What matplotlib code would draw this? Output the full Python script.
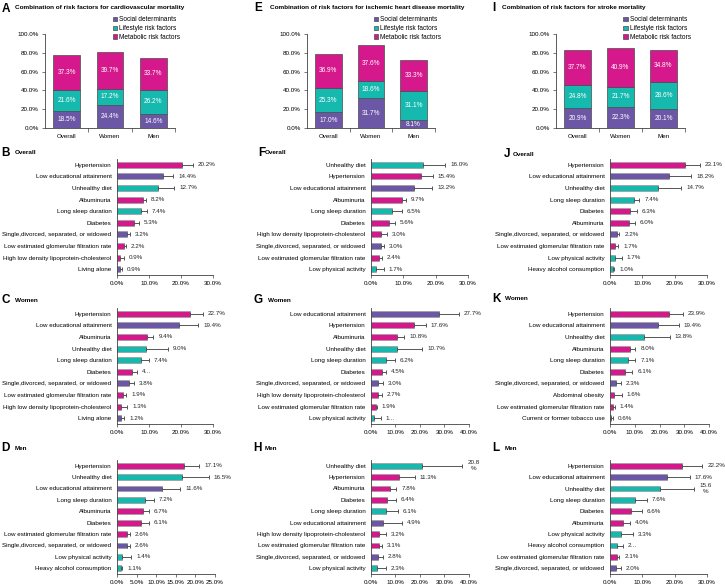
import matplotlib.pyplot as plt
import numpy as np

plt.rcParams['font.family'] = ['Liberation Sans', 'DejaVu Sans']

W, H = 725, 586

# ---- data ----
groups = ['Overall', 'Women', 'Men']

# stacked shares (%) : social / lifestyle / metabolic
a_social = [18.5, 24.4, 14.6]
a_lifestyle = [21.6, 17.2, 26.2]
a_metabolic = [37.3, 39.7, 33.7]
e_social = [17.0, 31.7, 8.1]
e_lifestyle = [25.3, 18.6, 31.1]
e_metabolic = [36.9, 37.6, 33.3]
i_social = [20.9, 22.3, 20.1]
i_lifestyle = [24.8, 21.7, 28.6]
i_metabolic = [37.7, 40.9, 34.8]

factor_type = {'Hypertension': 'M', 'Low educational attainment': 'S', 'Unhealthy diet': 'L',
               'Albuminuria': 'M', 'Long sleep duration': 'L', 'Diabetes': 'M',
               'Single,divorced, separated, or widowed': 'S',
               'Low estimated glomerular filtration rate': 'M',
               'High low density lipoprotein-cholesterol': 'M', 'Living alone': 'S',
               'Low physical activity': 'L', 'Heavy alcohol consumption': 'L',
               'Abdominal obesity': 'M', 'Current or former tobacco use': 'L'}

# cardiovascular mortality
b_factors = ['Hypertension', 'Low educational attainment', 'Unhealthy diet', 'Albuminuria',
             'Long sleep duration', 'Diabetes', 'Single,divorced, separated, or widowed',
             'Low estimated glomerular filtration rate', 'High low density lipoprotein-cholesterol',
             'Living alone']
b_values = [20.2, 14.4, 12.7, 8.2, 7.4, 5.3, 3.2, 2.2, 0.9, 0.9]
b_upper = [23.8, 17.6, 17.9, 9.0, 9.3, 6.8, 4.1, 2.8, 2.1, 1.6]

c_factors = ['Hypertension', 'Low educational attainment', 'Albuminuria', 'Unhealthy diet',
             'Long sleep duration', 'Diabetes', 'Single,divorced, separated, or widowed',
             'Low estimated glomerular filtration rate', 'High low density lipoprotein-cholesterol',
             'Living alone']
c_values = [22.7, 19.4, 9.4, 9.0, 7.4, 4.6, 3.8, 1.9, 1.3, 1.2]
c_upper = [26.8, 25.4, 11.4, 16.0, 9.9, 6.4, 5.2, 2.9, 3.2, 2.3]
c_shown = {5: '4…'}

d_factors = ['Hypertension', 'Unhealthy diet', 'Low educational attainment', 'Long sleep duration',
             'Albuminuria', 'Diabetes', 'Low estimated glomerular filtration rate',
             'Single,divorced, separated, or widowed', 'Low physical activity',
             'Heavy alcohol consumption']
d_values = [17.1, 16.5, 11.6, 7.2, 6.7, 6.1, 2.6, 2.6, 1.4, 1.1]
d_upper = [21.0, 23.4, 16.1, 9.5, 8.1, 8.2, 3.2, 3.2, 3.6, 1.4]

# ischemic heart disease mortality
f_factors = ['Unhealthy diet', 'Hypertension', 'Low educational attainment', 'Albuminuria',
             'Long sleep duration', 'Diabetes', 'High low density lipoprotein-cholesterol',
             'Single,divorced, separated, or widowed', 'Low estimated glomerular filtration rate',
             'Low physical activity']
f_values = [16.0, 15.4, 13.2, 9.7, 6.5, 5.6, 3.0, 3.0, 2.4, 1.7]
f_upper = [23.0, 19.2, 18.9, 10.8, 9.5, 7.5, 4.9, 4.1, 3.4, 3.9]

g_factors = ['Low educational attainment', 'Hypertension', 'Albuminuria', 'Unhealthy diet',
             'Long sleep duration', 'Diabetes', 'Single,divorced, separated, or widowed',
             'High low density lipoprotein-cholesterol', 'Low estimated glomerular filtration rate',
             'Low physical activity']
g_values = [27.7, 17.6, 10.8, 10.7, 6.2, 4.5, 3.0, 2.7, 1.9, 1.3]
g_upper = [35.8, 22.3, 13.6, 21.0, 9.8, 6.1, 4.7, 4.6, 2.3, 4.1]
g_shown = {9: '1…'}

h_factors = ['Unhealthy diet', 'Hypertension', 'Albuminuria', 'Diabetes', 'Long sleep duration',
             'Low educational attainment', 'High low density lipoprotein-cholesterol',
             'Low estimated glomerular filtration rate', 'Single,divorced, separated, or widowed',
             'Low physical activity']
h_values = [20.8, 11.3, 7.8, 6.4, 6.1, 4.9, 3.2, 3.1, 2.8, 2.3]
h_upper = [37.3, 17.9, 10.4, 10.2, 10.9, 12.5, 6.1, 4.6, 5.0, 6.1]
h_shown = {0: '20.8\n%'}

# stroke mortality
j_factors = ['Hypertension', 'Low educational attainment', 'Unhealthy diet', 'Long sleep duration',
             'Diabetes', 'Albuminuria', 'Single,divorced, separated, or widowed',
             'Low estimated glomerular filtration rate', 'Low physical activity',
             'Heavy alcohol consumption']
j_values = [23.1, 18.2, 14.7, 7.4, 6.3, 6.0, 2.2, 1.7, 1.7, 1.0]
j_upper = [27.7, 25.2, 22.0, 9.1, 8.3, 7.8, 2.9, 2.6, 3.6, 1.3]

k_factors = ['Hypertension', 'Low educational attainment', 'Unhealthy diet', 'Albuminuria',
             'Long sleep duration', 'Diabetes', 'Single,divorced, separated, or widowed',
             'Abdominal obesity', 'Low estimated glomerular filtration rate',
             'Current or former tobacco use']
k_values = [23.9, 19.4, 13.8, 8.0, 7.1, 6.1, 2.3, 1.6, 1.4, 0.6]
k_upper = [29.5, 27.8, 24.2, 10.3, 10.3, 9.0, 4.4, 4.7, 1.9, 1.1]

l_factors = ['Hypertension', 'Low educational attainment', 'Unhealthy diet', 'Long sleep duration',
             'Diabetes', 'Albuminuria', 'Low physical activity', 'Heavy alcohol consumption',
             'Low estimated glomerular filtration rate', 'Single,divorced, separated, or widowed']
l_values = [22.2, 17.6, 15.6, 7.6, 6.6, 4.0, 3.3, 2.1, 2.1, 2.0]
l_upper = [28.6, 24.6, 26.1, 11.4, 9.8, 6.2, 7.0, 4.1, 2.9, 3.3]
l_shown = {2: '15.6\n%', 7: '2…'}

colors = {'S': '#6b57a5', 'L': '#16b9ae', 'M': '#d5188c'}
spine_col = '#404040'
fs = 4.5


def px(x0, y0, x1, y1):
    return [x0 / W, 1 - y1 / H, (x1 - x0) / W, (y1 - y0) / H]


def label(x, y, letter, tx, title, ty=None):
    fig.text(x / W, 1 - y / H, letter, fontsize=8.5, fontweight='bold', va='center', ha='left')
    fig.text(tx / W, 1 - (ty if ty is not None else y) / H, title, fontsize=4.6,
             fontweight='bold', va='center', ha='left')


def stacked(box, social, lifestyle, metabolic):
    ax = fig.add_axes(px(*box))
    x = np.arange(len(groups))
    bottom = np.zeros(len(groups))
    for vals, key, name in [(social, 'S', 'Social determinants'),
                            (lifestyle, 'L', 'Lifestyle risk factors'),
                            (metabolic, 'M', 'Metabolic risk factors')]:
        ax.bar(x, vals, 0.62, bottom=bottom, color=colors[key], edgecolor='#4a4a4a',
               linewidth=0.5, label=name)
        for xi, v, b in zip(x, vals, bottom):
            ax.text(xi, b + v / 2, '{:.1f}%'.format(v), ha='center', va='center',
                    color='white', fontsize=4.7)
        bottom = bottom + np.array(vals)
    ax.set_xlim(-0.5, 2.5)
    ax.set_ylim(0, 100)
    ax.set_yticks(np.arange(0, 101, 20))
    ax.set_yticklabels(['{:.1f}%'.format(v) for v in np.arange(0, 101, 20)], fontsize=fs)
    ax.set_xticks(x)
    ax.set_xticklabels(groups, fontsize=fs)
    ax.set_xticks([0.5, 1.5, 2.5], minor=True)
    ax.tick_params(axis='x', which='major', length=0, pad=4)
    ax.tick_params(axis='x', which='minor', length=3, width=0.5, color=spine_col)
    ax.tick_params(axis='y', length=2.5, width=0.5, color=spine_col, pad=2)
    for s in ['top', 'right']:
        ax.spines[s].set_visible(False)
    for s in ['left', 'bottom']:
        ax.spines[s].set_color(spine_col)
        ax.spines[s].set_linewidth(0.6)
    ax.legend(loc='upper left', bbox_to_anchor=(0.52, 1.19), frameon=False, fontsize=4.7,
              handlelength=0.7, handleheight=0.7, handletextpad=0.3, labelspacing=0.3,
              borderaxespad=0, borderpad=0)
    return ax


def hpanel(box, factors, values, upper, xmax, step, shown=None):
    shown = shown or {}
    ax = fig.add_axes(px(*box))
    y = np.arange(len(factors))
    cols = [colors[factor_type[f]] for f in factors]
    ax.barh(y, values, 0.52, color=cols, edgecolor='#a0a0a0', linewidth=0.6, zorder=2)
    err = np.array(upper) - np.array(values)
    ax.errorbar(values, y, xerr=[np.zeros(len(values)), err], fmt='none', ecolor='#555555',
                elinewidth=0.7, capsize=1.4, capthick=0.7, zorder=3)
    for i, (v, u) in enumerate(zip(values, upper)):
        txt = shown.get(i, '{:.1f}%'.format(v))
        ax.annotate(txt, (u, i), xytext=(3.5, 0), textcoords='offset points', va='center',
                    ha='left', fontsize=fs, color='#262626', multialignment='center',
                    annotation_clip=False)
    ax.set_ylim(len(factors) - 0.5, -0.5)
    ax.set_yticks(y)
    ax.set_yticklabels(factors, fontsize=fs)
    ax.tick_params(axis='y', length=0, pad=4)
    ticks = np.arange(0, xmax + 0.01, step)
    ax.set_xlim(0, xmax)
    ax.set_xticks(ticks)
    ax.set_xticklabels(['{:.1f}%'.format(t) for t in ticks], fontsize=fs)
    ax.tick_params(axis='x', length=2, width=0.5, color=spine_col, pad=2)
    for s in ['top', 'right']:
        ax.spines[s].set_visible(False)
    for s in ['left', 'bottom']:
        ax.spines[s].set_color(spine_col)
        ax.spines[s].set_linewidth(0.6)
    return ax


fig = plt.figure(figsize=(W / 100, H / 100), dpi=100)

# top row : stacked bars
stacked((45, 34, 175, 128), a_social, a_lifestyle, a_metabolic)
stacked((307, 34, 435, 128), e_social, e_lifestyle, e_metabolic)
stacked((556, 34, 685, 128), i_social, i_lifestyle, i_metabolic)
label(2, 9, 'A', 15, 'Combination of risk factors for cardiovascular mortality', 7)
label(254, 8, 'E', 270, 'Combination of risk factors for ischemic heart disease mortality', 7)
label(492, 8, 'I', 502, 'Combination of risk factors for stroke mortality', 7)

row1 = (159, 275)
row2 = (308, 424)
row3 = (460, 574)

hpanel((117, row1[0], 213, row1[1]), b_factors, b_values, b_upper, 30, 10)
hpanel((117, row2[0], 213, row2[1]), c_factors, c_values, c_upper, 30, 10, c_shown)
hpanel((117, row3[0], 215, row3[1]), d_factors, d_values, d_upper, 25, 5)
hpanel((371, row1[0], 468, row1[1]), f_factors, f_values, f_upper, 30, 10)
hpanel((371, row2[0], 469, row2[1]), g_factors, g_values, g_upper, 40, 10, g_shown)
hpanel((371, row3[0], 469, row3[1]), h_factors, h_values, h_upper, 40, 10, h_shown)
hpanel((610, row1[0], 707, row1[1]), j_factors, j_values, j_upper, 30, 10)
hpanel((610, row2[0], 709, row2[1]), k_factors, k_values, k_upper, 40, 10)
hpanel((610, row3[0], 707, row3[1]), l_factors, l_values, l_upper, 30, 10, l_shown)

label(1, 153, 'B', 15, 'Overall')
label(1, 300, 'C', 15, 'Women')
label(1, 448, 'D', 15, 'Men')
label(258, 153, 'F', 265, 'Overall')
label(254, 300, 'G', 268, 'Women')
label(253, 448, 'H', 265, 'Men')
label(504, 154, 'J', 513, 'Overall')
label(492, 299, 'K', 505, 'Women')
label(492, 448, 'L', 505, 'Men')

fig.savefig('out.png', dpi=100)
